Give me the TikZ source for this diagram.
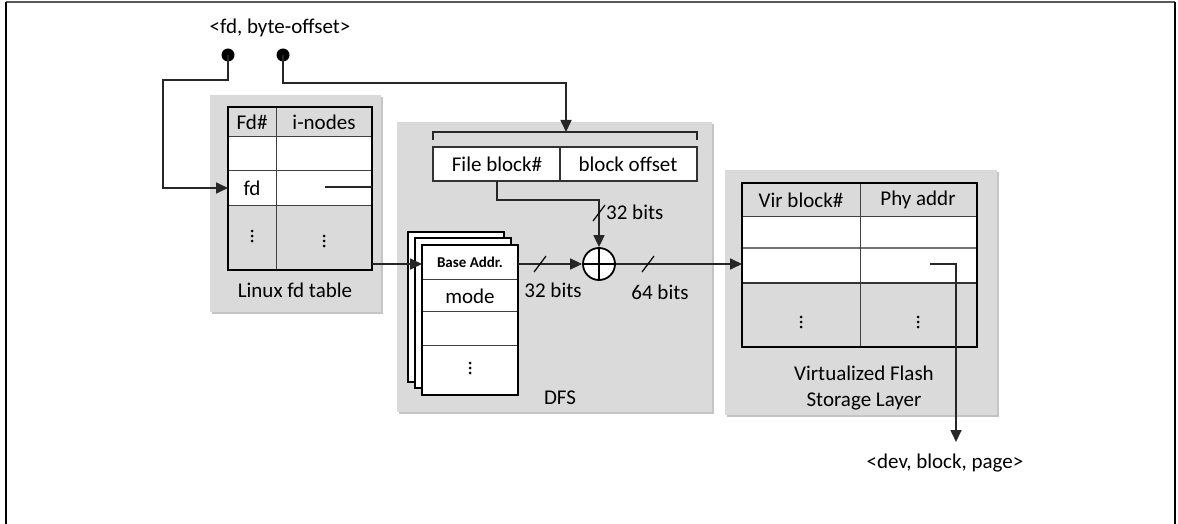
\documentclass[tikz,border=0pt]{standalone}
\usepackage{fontspec}
\setmainfont{Carlito}
\usetikzlibrary{arrows.meta}
\definecolor{panelgray}{HTML}{DADADA}
\definecolor{shadowgray}{HTML}{C4C4C4}
\begin{document}
\begin{tikzpicture}[x=1pt,y=-1pt,
  font=\fontsize{21}{24}\selectfont,
  panel/.style={fill=panelgray},
  conn/.style={line width=1.7pt, draw=black!85},
  tip/.style={-{Triangle[length=12pt,width=11pt]}},
  tbl/.style={line width=2.8pt},
  rowline/.style={line width=1pt, draw=black!75},
  txt/.style={inner sep=0pt, anchor=center},
  slash/.style={line width=1.2pt}]
\newcommand\vdotsat[2]{\fill (#1,#2-5) circle (1.5) (#1,#2) circle (1.5) (#1,#2+5) circle (1.5);}
\useasboundingbox (0,0) rectangle (1178,524);
% frame
\draw[line width=2pt, black!65] (6,2) -- (1175,2);
\draw[line width=2pt] (6,2) -- (6,524);
\draw[line width=2pt] (1175,2) -- (1175,524);

% ---------- panels ----------
\fill[shadowgray] (212,97) rectangle (383,314);
\fill[panel] (210,95) rectangle (381,312);
\fill[shadowgray] (399,124) rectangle (714,414);
\fill[panel] (397,122) rectangle (712,412);
\fill[shadowgray] (727,172) rectangle (999,417);
\fill[panel] (725,170) rectangle (997,415);

% ---------- top input ----------
\node[txt] (in) at (280,28) {<fd, byte-offset>};
\fill (228,55) circle (6.5);
\fill (283,55) circle (6.5);
\coordinate (fdpin) at (228,55);
\coordinate (offpin) at (283,55);

% ---------- Linux fd table ----------
\fill[white] (228,137) rectangle (372,205);
\draw[rowline] (228,137) -- (372,137);
\draw[rowline] (228,170) -- (372,170);
\draw[rowline] (228,205) -- (372,205);
\draw[rowline] (276,107) -- (276,270);
\draw[tbl] (228,107) rectangle (372,270);
\node[txt] (fdh) at (252,122) {Fd\#};
\node[txt] (inh) at (324,122) {i-nodes};
\node[txt] (fdcell) at (252,188) {fd};
\vdotsat{252}{236}
\vdotsat{324}{241}
\node[txt] (linuxlbl) at (295,290) {Linux fd table};
\coordinate (fdrowL) at (228,188);
\coordinate (inodeA) at (325,187);
\coordinate (inodeB) at (372,187);
\coordinate (tblout) at (372,264);
\draw[conn] (inodeA) -- (inodeB);

% ---------- DFS ----------
\draw[conn] (433,140) -- (433,132) -- (697,132) -- (697,140);
\coordinate (brtop) at (566,132);
\fill[white] (433,147) rectangle (697,181);
\draw[line width=1.1pt, black!80] (433,147) rectangle (697,181);
\draw[line width=1.1pt, black!80] (560,147) -- (560,181);
\node[txt] (fileblk) at (497,164) {File block\#};
\node[txt] (blkoff) at (628,164) {block offset};
\coordinate (fbbot) at (497,181);

% stacked cards
\foreach \dx/\dy in {-14/-13,-7/-7}{
  \fill[white] (422+\dx,245+\dy) rectangle (518+\dx,395+\dy);
  \draw[line width=1.3pt] (422+\dx,245+\dy) rectangle (518+\dx,395+\dy);
}
\fill[white] (422,245) rectangle (518,395);
\draw[rowline] (422,279) -- (518,279);
\draw[rowline] (422,311) -- (518,311);
\draw[rowline] (422,345) -- (518,345);
\draw[line width=1.6pt] (422,245) rectangle (518,395);
\node[txt, font=\fontsize{15}{17}\selectfont\bfseries] (base) at (470,262) {Base Addr.};
\node[txt] (mode) at (470,296) {mode};
\vdotsat{470}{368}
\coordinate (cardL) at (422,264);
\coordinate (cardR) at (518,264);

% adder
\node[circle, draw, line width=1.8pt, fill=white, minimum size=32pt, inner sep=0pt] (add) at (599,264) {};
\draw[line width=1.8pt] (add.north) -- (add.south) (add.west) -- (add.east);
\node[txt] (dfslbl) at (560,398) {DFS};

% ---------- VFSL ----------
\fill[white] (742,216) rectangle (977,283);
\draw[rowline] (742,216) -- (977,216);
\draw[line width=1.5pt, black!55] (742,248) -- (977,248);
\draw[line width=1.8pt, black!80] (742,283) -- (977,283);
\draw[rowline] (860,183) -- (860,347);
\draw[tbl] (742,183) rectangle (977,347);
\node[txt] (virh) at (801,200) {Vir block\#};
\node[txt] (phyh) at (918,200) {Phy addr};
\vdotsat{801}{322}
\vdotsat{918}{322}
\node[txt] (v1) at (864,373) {Virtualized Flash};
\node[txt] (v2) at (864,401) {Storage Layer};
\coordinate (vtblL) at (742,264);
\coordinate (phyA) at (930,264);
\coordinate (phyB) at (956,264);
\coordinate (outtip) at (956,442);
\node[txt] (out) at (945,463) {<dev, block, page>};

% ---------- connectors ----------
\draw[conn, tip] (fdpin) -- (228,80) -- (163,80) -- (163,188) -- (fdrowL);
\draw[conn, tip] (offpin) -- (283,83) -- (566,83) -- (brtop);
\draw[conn, tip] (tblout) -- (cardL);
\draw[conn, tip] (fbbot) -- (497,200) -- (599,200) -- (add.north);
\draw[conn, tip] (cardR) -- (add.west);
\draw[conn, tip] (add.east) -- (vtblL);
\draw[conn, tip] (phyA) -- (phyB) -- (outtip);

% bus width marks
\draw[slash] (593,221) -- (605,205);
\node[txt, anchor=west] (b32a) at (606,212) {32 bits};
\draw[slash] (534,272) -- (546,256);
\node[txt] (b32b) at (553,290) {32 bits};
\draw[slash] (642,272) -- (654,256);
\node[txt] (b64) at (660,292) {64 bits};
\end{tikzpicture}
\end{document}
